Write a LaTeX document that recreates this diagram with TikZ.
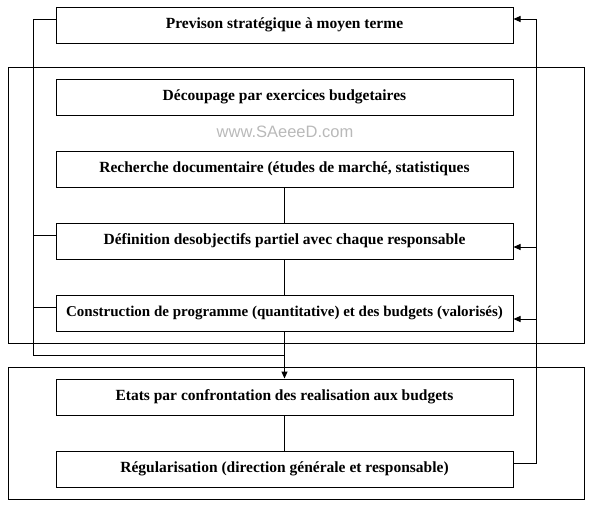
\documentclass[tikz,border=0pt]{standalone}
\usepackage{fontspec}
\setmainfont{Liberation Serif}
\newfontfamily\wmfont{Liberation Sans}
\usetikzlibrary{arrows.meta}
\tikzset{
  stepbox/.style={draw, line width=1pt, minimum width=457pt, minimum height=36pt, inner sep=0pt, font=\fontsize{15.5}{17}\selectfont\bfseries},
  conn/.style={line width=1pt},
  arr/.style={line width=1pt, -{Triangle[length=7pt,width=6pt]}},
  frame/.style={draw, line width=1pt}
}
\begin{document}
\begin{tikzpicture}[x=1pt,y=-1pt]
\useasboundingbox (0,0) rectangle (592,509);
\draw[frame] (8,67) rectangle (584,343);
\draw[frame] (8,367) rectangle (584,499);
\node[stepbox] (top) at (284.5,25) {Previson stratégique à moyen terme};
\node[stepbox] (dec) at (284.5,97) {Découpage par exercices budgetaires};
\node[text=gray!55, font=\wmfont\fontsize{16.5}{18}\selectfont] (wm) at (285,132) {www.SAeeeD.com};
\node[stepbox] (rech) at (284.5,169) {Recherche documentaire (études de marché, statistiques};
\node[stepbox] (def) at (284.5,241) {Définition desobjectifs partiel avec chaque responsable};
\node[stepbox, font=\fontsize{15}{17}\selectfont\bfseries] (cons) at (284.5,313) {Construction de programme (quantitative) et des budgets (valorisés)};
\node[stepbox] (etat) at (284.5,397) {Etats par confrontation des realisation aux budgets};
\node[stepbox] (reg) at (284.5,469) {Régularisation (direction générale et responsable)};
% junction coordinates
\coordinate (lt) at (33,19);
\coordinate (ld) at (33,235);
\coordinate (lc) at (33,307);
\coordinate (lb) at (33,355);
\coordinate (mb) at (284.5,355);
\coordinate (rt) at (536,19);
\coordinate (rd) at (536,247);
\coordinate (rc) at (536,319);
\coordinate (rb) at (536,463);
% centre chain
\draw[conn] (rech) -- (def);
\draw[conn] (def) -- (cons);
\draw[conn] (cons.south) -- (mb);
\draw[arr] (mb) -- (etat.north);
\draw[conn] (etat) -- (reg);
% left feedback
\draw[conn] (top.west |- lt) -- (lt) -- (lb) -- (mb);
\draw[conn] (ld) -- (def.west |- ld);
\draw[conn] (lc) -- (cons.west |- lc);
% right feedback
\draw[arr] (reg.east |- rb) -- (rb) -- (rt) -- (top.east |- rt);
\draw[arr] (rd) -- (def.east |- rd);
\draw[arr] (rc) -- (cons.east |- rc);
\end{tikzpicture}
\end{document}
